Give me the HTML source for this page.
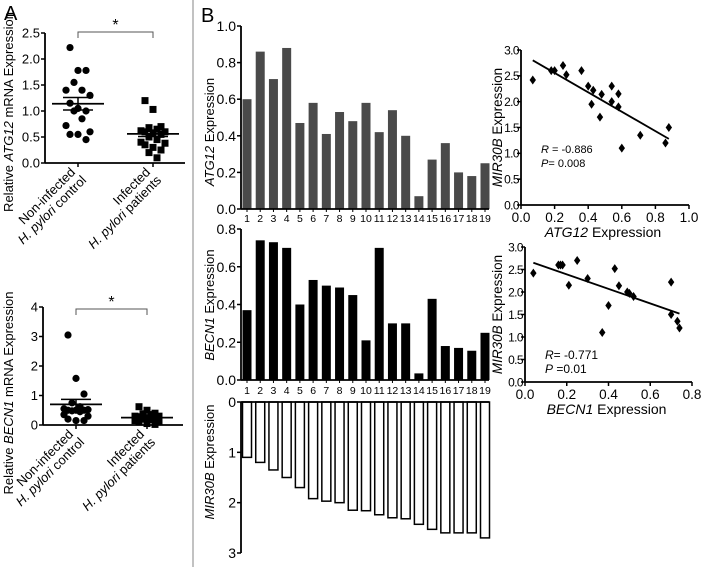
<!DOCTYPE html>
<html><head><meta charset="utf-8"><style>
html,body{margin:0;padding:0;background:#fff;}
svg{display:block;font-family:"Liberation Sans",Arial,sans-serif;}
</style></head><body>
<svg id="fig" width="710" height="567" viewBox="0 0 710 567">
<rect width="710" height="567" fill="#fff"/>
<line x1="193" y1="0" x2="193" y2="567" stroke="#999" stroke-width="1.2"/>
<text x="4" y="20" font-size="20">A</text>
<text x="201" y="22" font-size="20">B</text>
</svg>
<script>
// ===== Data =====
const atgControl = [2.22,1.78,1.78,1.55,1.4,1.4,1.3,1.15,1.05,1.0,1.0,0.85,0.72,0.6,0.55,0.55,0.45];
const atgInfected = [1.2,1.03,0.7,0.68,0.65,0.62,0.6,0.6,0.58,0.55,0.5,0.45,0.4,0.38,0.35,0.3,0.25,0.2,0.1];
const atgMeans = [1.14,0.56];
const atgSem = [0.12,0.05];
const atgTicks = [0,0.5,1.0,1.5,2.0,2.5];
const becControl = [3.05,1.58,1.05,0.75,0.62,0.55,0.52,0.5,0.5,0.5,0.48,0.45,0.35,0.3,0.2,0.15,0.15];
const becInfected = [0.62,0.5,0.4,0.38,0.35,0.3,0.3,0.28,0.25,0.2,0.2,0.18,0.15,0.12,0.1,0.05,0.02,0.3,0.35];
const becMeans = [0.7,0.25];
const becSem = [0.17,0.04];
const becTicks = [0,1,2,3,4];
const patients = ["1","2","3","4","5","6","7","8","9","10","11","12","13","14","15","16","17","18","19"];
const atg12Bars = [0.60,0.86,0.71,0.88,0.47,0.58,0.41,0.53,0.48,0.58,0.42,0.54,0.40,0.07,0.27,0.36,0.20,0.18,0.25];
const becn1Bars = [0.37,0.74,0.73,0.70,0.40,0.53,0.50,0.49,0.45,0.21,0.70,0.30,0.30,0.035,0.43,0.18,0.17,0.155,0.25];
const mir30bBars = [1.1,1.2,1.35,1.5,1.7,1.92,1.97,2.0,2.15,2.16,2.24,2.3,2.32,2.43,2.53,2.6,2.6,2.6,2.7];
const atgBarTicks = [0,0.2,0.4,0.6,0.8,1.0];
const becBarTicks = [0,0.2,0.4,0.6,0.8];
const mirBarTicks = [0,1,2,3];
const sc1X = [0.07,0.18,0.2,0.25,0.27,0.36,0.4,0.42,0.43,0.47,0.48,0.54,0.54,0.58,0.58,0.6,0.71,0.86,0.88];
const sc1Y = [2.42,2.6,2.6,2.7,2.52,2.6,2.3,1.95,2.22,1.7,2.14,2.3,2.0,1.9,2.15,1.1,1.35,1.2,1.5];
const sc1Line = [[0.07,2.8],[0.88,1.28]];
const sc2X = [0.04,0.16,0.17,0.18,0.21,0.25,0.3,0.37,0.4,0.43,0.45,0.49,0.5,0.52,0.7,0.7,0.73,0.74];
const sc2Y = [2.42,2.6,2.6,2.6,2.15,2.7,2.3,1.1,1.7,2.52,2.14,2.0,1.97,1.9,2.22,1.5,1.35,1.2];
const sc2Line = [[0.04,2.65],[0.74,1.52]];
const sc1XTicks = [0,0.2,0.4,0.6,0.8,1.0];
const sc2XTicks = [0,0.2,0.4,0.6,0.8];
const scYTicks = [0,0.5,1.0,1.5,2.0,2.5,3.0];

// ===== Helpers =====
const svg = document.getElementById('fig');
const NS = 'http://www.w3.org/2000/svg';
function el(tag, attrs, parent){
  const e = document.createElementNS(NS, tag);
  for (const k in attrs) e.setAttribute(k, attrs[k]);
  (parent||svg).appendChild(e);
  return e;
}
function lin(d0,d1,r0,r1){ return v => r0 + (v-d0)/(d1-d0)*(r1-r0); }
function fmt(v,dec){ return dec===0 ? String(v) : v.toFixed(dec); }
function txt(x,y,s,size,anchor,parent){
  const t = el('text',{x:x,y:y,'font-size':size,'text-anchor':anchor||'start'},parent);
  t.textContent = s; return t;
}
function richTitle(x,y,italic,rest,size,rot,prefix){
  const t = el('text',{x:x,y:y,'font-size':size,'text-anchor':'middle',transform: rot?`rotate(-90 ${x} ${y})`:''});
  if(prefix){ const p=el('tspan',{},t); p.textContent=prefix; }
  const a = el('tspan',{'font-style':'italic'},t); a.textContent = italic;
  const b = el('tspan',{},t); b.textContent = rest;
  return t;
}
function yAxis(x, ys, ticks, dec, y0, y1, size, name, gap, ls){
  const g = el('g',{});
  
  
  el('line',{x1:x,y1:y0,x2:x,y2:y1,stroke:'#000','stroke-width':1.8},g);
  ticks.forEach(v=>{
    const y = ys(v);
    el('line',{x1:x-4,y1:y,x2:x,y2:y,stroke:'#000','stroke-width':1.5},g);
    const t = txt(x-(gap||5),y+size*0.36,fmt(v,dec),size,'end',g);
    if(ls) t.setAttribute('letter-spacing', ls);
  });
}

// ===== Panel A dot plots =====
function dotPlot(cfg){
  const ys = lin(0,cfg.max,cfg.y0,cfg.yTop);
  const g = el('g',{});
  
  
  yAxis(cfg.ax, ys, cfg.ticks, cfg.dec, cfg.y0, cfg.yTop, 13, cfg.name+'-y-axis');
  el('line',{x1:cfg.ax,y1:cfg.y0,x2:cfg.axEnd,y2:cfg.y0,stroke:'#000','stroke-width':1.8},g);
  cfg.cx.forEach(c=>el('line',{x1:c,y1:cfg.y0,x2:c,y2:cfg.y0+4,stroke:'#000','stroke-width':1.5},g));
  const jit = [-8,0,8,-4,4,-12,12];
  [cfg.g1,cfg.g2].forEach((arr,gi)=>{
    arr.forEach((v,i)=>{
      const x = cfg.cx[gi] + jit[i%jit.length];
      const y = ys(v);
      let m;
      if(gi===0){ m = el('circle',{cx:x,cy:y,r:3.6,fill:'#000'},g);  }
      else { m = el('rect',{x:x-3.5,y:y-3.5,width:7,height:7,fill:'#000'},g);  }
      
    });
    const mx = cfg.cx[gi];
    const mean = el('line',{x1:mx-26,y1:ys(cfg.means[gi]),x2:mx+26,y2:ys(cfg.means[gi]),stroke:'#000','stroke-width':1.8},g);
    
    
    [cfg.means[gi]+cfg.sem[gi],cfg.means[gi]-cfg.sem[gi]].forEach(v=>{
      const s = el('line',{x1:mx-15,y1:ys(v),x2:mx+15,y2:ys(v),stroke:'#000','stroke-width':1.5},g);
      
      
    });
    el('line',{x1:mx,y1:ys(cfg.means[gi]+cfg.sem[gi]),x2:mx,y2:ys(cfg.means[gi]-cfg.sem[gi]),stroke:'#000','stroke-width':1.5},g);
  });
  const by = cfg.bracketY;
  el('path',{d:`M${cfg.cx[0]},${by+6} V${by} H${cfg.cx[1]} V${by+6}`,fill:'none',stroke:'#555','stroke-width':1},g);
  txt((cfg.cx[0]+cfg.cx[1])/2,by-2,'*',16,'middle',g);
  const labels = [["Non-infected","H. pylori"," control"],["Infected","H. pylori"," patients"]];
  labels.forEach((L,gi)=>{
    const x = cfg.cx[gi]+2, y = cfg.y0+10;
    const t1 = el('text',{x:x-4,y:y,'font-size':13,'text-anchor':'end',transform:`rotate(-45 ${x-4} ${y})`},g);
    t1.textContent = L[0];
    const x2 = x+7, y2 = y+8;
    const t2 = el('text',{x:x2,y:y2,'font-size':13,'text-anchor':'end',transform:`rotate(-45 ${x2} ${y2})`},g);
    const a = el('tspan',{'font-style':'italic'},t2); a.textContent = L[1];
    const b = el('tspan',{},t2); b.textContent = L[2];
  });
  richTitle(13,cfg.titleY,cfg.gene,' mRNA Expression',13,true,'Relative ');
}
dotPlot({name:'atg12-dot-plot',max:2.5,y0:163,yTop:33,ax:45,axEnd:185,cx:[78,153],g1:atgControl,g2:atgInfected,means:atgMeans,sem:atgSem,ticks:atgTicks,dec:1,bracketY:32,gene:'ATG12',titleY:112});
dotPlot({name:'becn1-dot-plot',max:4,y0:425,yTop:307,ax:43,axEnd:183,cx:[76,147],g1:becControl,g2:becInfected,means:becMeans,sem:becSem,ticks:becTicks,dec:0,bracketY:309,gene:'BECN1',titleY:393});

// ===== Panel B bar charts =====
const barX = lin(0,18,247,485);
function barChart(cfg){
  const ys = lin(0,cfg.max,cfg.y0,cfg.yTop);
  const g = el('g',{});
  
  
  yAxis(241, ys, cfg.ticks, cfg.dec, cfg.y0, cfg.yTop, cfg.tickSize, cfg.name+'-y-axis');
  cfg.values.forEach((v,i)=>{
    const cx = barX(i);
    const ya = ys(0), yb = ys(v);
    const r = el('rect',{x:cx-4.5,y:Math.min(ya,yb),width:9,height:Math.abs(yb-ya),fill:cfg.fill,stroke:cfg.stroke||'none','stroke-width':cfg.stroke?1.5:0},g);
    
    
  });
  el('line',{x1:241,y1:cfg.y0,x2:489,y2:cfg.y0,stroke:'#000','stroke-width':1.8},g);
  if(cfg.labelY){
    patients.forEach((p,i)=>{
      el('line',{x1:barX(i),y1:cfg.y0,x2:barX(i),y2:cfg.y0+3,stroke:'#000','stroke-width':1},g);
      txt(barX(i),cfg.labelY,p,10.5,'middle',g);
    });
  }
  richTitle(214,cfg.titleY,cfg.gene,' Expression',13,true);
}
barChart({name:'atg12-bar-chart',values:atg12Bars,max:1.0,y0:209,yTop:26,ticks:atgBarTicks,dec:1,fill:'#4a4a4a',labelY:222,gene:'ATG12',titleY:132,tickSize:14});
barChart({name:'becn1-bar-chart',values:becn1Bars,max:0.8,y0:380,yTop:229,ticks:becBarTicks,dec:1,fill:'#000',labelY:394,gene:'BECN1',titleY:305,tickSize:14});
barChart({name:'mir30b-bar-chart',values:mir30bBars,max:3,y0:402,yTop:553,ticks:mirBarTicks,dec:0,fill:'#fff',stroke:'#000',labelY:0,gene:'MIR30B',titleY:462,tickSize:14});

// ===== Panel B scatter plots =====
function scatter(cfg){
  const xs = lin(0,cfg.xMax,cfg.x0,cfg.x1);
  const ys = lin(0,3,cfg.y0,cfg.yTop);
  const g = el('g',{});
  
  
  yAxis(cfg.x0, ys, scYTicks, 1, cfg.y0, cfg.yTop, 12, cfg.name+'-y-axis', 2, '-0.6');
  el('line',{x1:cfg.x0,y1:cfg.y0,x2:cfg.x1,y2:cfg.y0,stroke:'#000','stroke-width':1.8},g);
  cfg.xTicks.forEach(v=>{
    el('line',{x1:xs(v),y1:cfg.y0,x2:xs(v),y2:cfg.y0+4,stroke:'#000','stroke-width':1.5},g);
    txt(xs(v),cfg.y0+17,fmt(v,1),13.5,'middle',g);
  });
  cfg.xv.forEach((v,i)=>{
    const x = xs(v), y = ys(cfg.yv[i]);
    const p = el('path',{d:`M${x},${y-4.5} L${x+3.2},${y} L${x},${y+4.5} L${x-3.2},${y} Z`,fill:'#000'},g);
    
    
  });
  const fit = el('line',{x1:xs(cfg.line[0][0]),y1:ys(cfg.line[0][1]),x2:xs(cfg.line[1][0]),y2:ys(cfg.line[1][1]),stroke:'#000','stroke-width':1.8},g);
  
  
  const r = el('text',{x:cfg.x0+20,y:cfg.statY,'font-size':cfg.statSize},g);
  const ri = el('tspan',{'font-style':'italic'},r); ri.textContent='R';
  const rv = el('tspan',{},r); rv.textContent=cfg.rText;
  const p = el('text',{x:cfg.x0+20,y:cfg.statY+14,'font-size':cfg.statSize},g);
  const pi = el('tspan',{'font-style':'italic'},p); pi.textContent='P';
  const pv = el('tspan',{},p); pv.textContent=cfg.pText;
  richTitle((cfg.x0+cfg.x1)/2-2,cfg.y0+32,cfg.gene,' Expression',14,false);
  richTitle(502,(cfg.y0+cfg.yTop)/2,'MIR30B',' Expression',13.5,true);
}
scatter({name:'atg12-mir30b-scatter',xv:sc1X,yv:sc1Y,line:sc1Line,xMax:1.0,x0:521,x1:689,y0:205,yTop:50,xTicks:sc1XTicks,gene:'ATG12',rText:' = -0.886',pText:'= 0.008',statY:153,statSize:11});
scatter({name:'becn1-mir30b-scatter',xv:sc2X,yv:sc2Y,line:sc2Line,xMax:0.8,x0:525,x1:692,y0:382,yTop:247,xTicks:sc2XTicks,gene:'BECN1',rText:'= -0.771',pText:' =0.01',statY:359,statSize:12});
</script>
</body></html>
